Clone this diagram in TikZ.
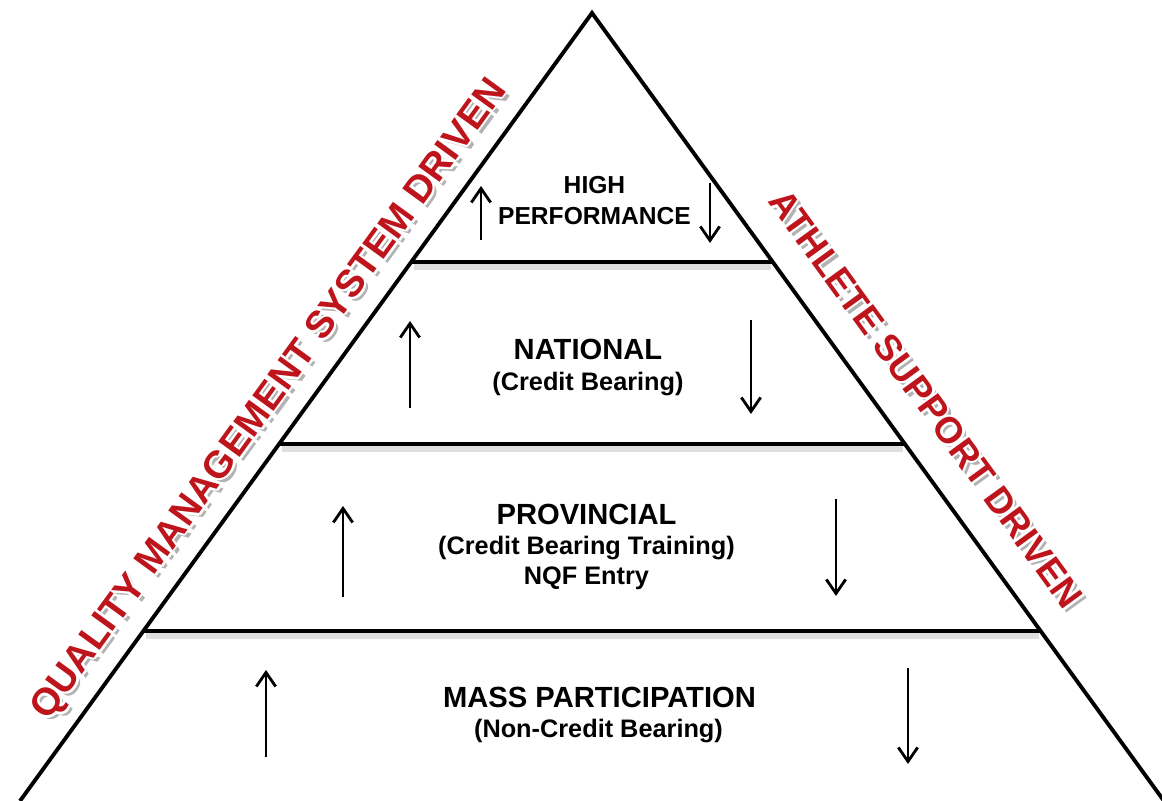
\documentclass[tikz,border=0pt]{standalone}
\usepackage{fontspec}
\setmainfont{Liberation Sans}
\usetikzlibrary{arrows.meta}
\definecolor{drivenred}{RGB}{190,20,28}
\tikzset{
  tier/.style={font=\fontsize{8.3}{8.5}\selectfont\bfseries, align=center, inner sep=0pt},
  toptier/.style={font=\fontsize{7}{8.8}\selectfont\bfseries, align=center, inner sep=0pt},
  subtier/.style={font=\fontsize{7.2}{8.5}\selectfont\bfseries, align=center, inner sep=0pt},
  flow/.style={line width=0.8pt, -{Straight Barb[length=4pt,width=5.5pt]}},
  divider/.style={line width=1.3pt},
  dividershade/.style={line width=1.8pt, gray!25},
  driven/.style={font=\fontsize{10.5}{12}\selectfont\bfseries, text=drivenred, inner sep=0pt}
}
% red side label with white rim and grey shadow: name, size, x, y, angle, text
\newcommand\sidelabel[6]{%
  \node[driven, font=\fontsize{#2}{12}\selectfont\bfseries, text=gray!60, xshift=0.4mm, yshift=-0.4mm, rotate=#5] (#1-shadow) at (#3,#4) {#6};
  \foreach \dx/\dy [count=\k] in {0.25/0, -0.25/0, 0/0.25, 0/-0.25, 0.18/0.18, -0.18/0.18, 0.18/-0.18, -0.18/-0.18}
    \node[driven, font=\fontsize{#2}{12}\selectfont\bfseries, text=white, xshift=\dx mm, yshift=\dy mm, rotate=#5] (#1-rim\k) at (#3,#4) {#6};
  \node[driven, font=\fontsize{#2}{12}\selectfont\bfseries, rotate=#5] (#1) at (#3,#4) {#6};
}
\begin{document}
\begin{tikzpicture}
\useasboundingbox (0,0) rectangle (11.62,8.01);
% pyramid
\coordinate (apex) at (5.92,7.88);
\coordinate (bl) at (0.20,0);
\coordinate (br) at (11.64,0);
\draw[line width=1.1pt] (bl) -- (apex) -- (br);
% tiers
\foreach \y/\l/\r in {5.39/4.11/7.73, 3.57/2.79/9.05, 1.70/1.43/10.41} {
  \draw[dividershade] (\l+0.03,\y-0.045) -- (\r-0.02,\y-0.045);
  \draw[divider] (\l,\y) -- (\r,\y);
}
% up and down arrows
\foreach \x/\a/\b in {4.81/5.61/6.15, 4.10/3.93/4.80, 3.43/2.04/2.95, 2.66/0.44/1.31}
  \draw[flow] (\x,\a) -- (\x,\b);
\foreach \x/\a/\b in {7.10/6.18/5.58, 7.51/4.81/3.87, 8.36/3.02/2.05, 9.08/1.33/0.37}
  \draw[flow] (\x,\a) -- (\x,\b);
% texts
\node[toptier] (high) at (5.945,6.00) {HIGH\\PERFORMANCE};
\node[tier] (national) at (5.88,4.52) {NATIONAL};
\node[subtier] (nationalsub) at (5.88,4.17) {(Credit Bearing)};
\node[tier] (provincial) at (5.865,2.87) {PROVINCIAL};
\node[subtier] (provincialsub) at (5.865,2.38) {(Credit Bearing Training)\\NQF Entry};
\node[tier] (mass) at (5.995,1.04) {MASS PARTICIPATION};
\node[subtier] (masssub) at (5.985,0.70) {(Non-Credit Bearing)};
% side labels
\sidelabel{quality}{10.9}{2.70}{4.01}{54}{QUALITY MANAGEMENT SYSTEM DRIVEN}
\sidelabel{athlete}{10.5}{9.26}{4.02}{-54}{ATHLETE SUPPORT DRIVEN}
\end{tikzpicture}
\end{document}
